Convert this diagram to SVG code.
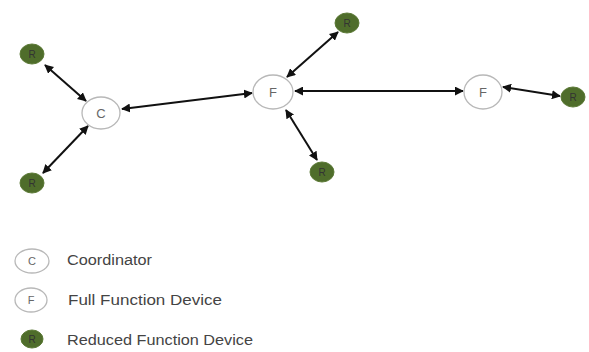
<svg xmlns="http://www.w3.org/2000/svg" width="589" height="352" viewBox="0 0 589 352">
<defs>
<marker id="ah" viewBox="0 0 10 10" refX="9" refY="5" markerWidth="4.5" markerHeight="4.5" orient="auto-start-reverse">
<path d="M0,0 L10,5 L0,10 z" fill="#111"/>
</marker>
<style>
.w{fill:#fff;stroke:#b8b8b8;stroke-width:1.3}
.g{fill:#4f6d2b;stroke:#5c7a36;stroke-width:1}
.t{font-family:"Liberation Sans",Arial,sans-serif;font-size:13px;fill:#666;text-anchor:middle}
.tr{font-family:"Liberation Sans",Arial,sans-serif;font-size:10px;fill:#333;text-anchor:middle}
.l{font-family:"Liberation Sans",Arial,sans-serif;font-size:14px;fill:#444}
.e{stroke:#111;stroke-width:2;fill:none;marker-start:url(#ah);marker-end:url(#ah)}
</style>
</defs>
<g id="connectors">
<line class="e" x1="45" y1="65" x2="86" y2="101"/>
<line class="e" x1="43" y1="173" x2="88" y2="126"/>
<line class="e" x1="122" y1="109" x2="252" y2="93"/>
<line class="e" x1="287" y1="77" x2="338" y2="32"/>
<line class="e" x1="295" y1="91" x2="463" y2="91"/>
<line class="e" x1="286" y1="110" x2="317" y2="160"/>
<line class="e" x1="503" y1="87" x2="560" y2="96"/>
</g>
<g id="C"><ellipse class="w" cx="101" cy="113" rx="19" ry="16"/><text class="t" x="101" y="118">C</text></g>
<g id="F1"><ellipse class="w" cx="273" cy="92" rx="20" ry="17"/><text class="t" x="273" y="97">F</text></g>
<g id="F2"><ellipse class="w" cx="483" cy="92" rx="19" ry="17"/><text class="t" x="483" y="97">F</text></g>
<g id="R1"><ellipse class="g" cx="32" cy="54" rx="12" ry="10"/><text class="tr" x="32" y="58">R</text></g>
<g id="R2"><ellipse class="g" cx="32" cy="183" rx="12" ry="10"/><text class="tr" x="32" y="187">R</text></g>
<g id="R3"><ellipse class="g" cx="347" cy="23" rx="12" ry="10"/><text class="tr" x="347" y="27">R</text></g>
<g id="R4"><ellipse class="g" cx="322" cy="172" rx="12" ry="10"/><text class="tr" x="322" y="176">R</text></g>
<g id="R5"><ellipse class="g" cx="573" cy="97" rx="12" ry="10"/><text class="tr" x="573" y="101">R</text></g>
<g id="legend-C"><ellipse class="w" cx="32" cy="261" rx="17" ry="12"/><text class="t" x="32" y="265" style="font-size:11px">C</text><text class="l" x="67" y="265" textLength="85" lengthAdjust="spacingAndGlyphs">Coordinator</text></g>
<g id="legend-F"><ellipse class="w" cx="31" cy="300" rx="16" ry="12"/><text class="t" x="31" y="304" style="font-size:11px">F</text><text class="l" x="68" y="305" textLength="154" lengthAdjust="spacingAndGlyphs">Full Function Device</text></g>
<g id="legend-R"><ellipse class="g" cx="32" cy="339" rx="11" ry="9"/><text class="tr" x="32" y="343">R</text><text class="l" x="67" y="345" textLength="186" lengthAdjust="spacingAndGlyphs">Reduced Function Device</text></g>
</svg>
